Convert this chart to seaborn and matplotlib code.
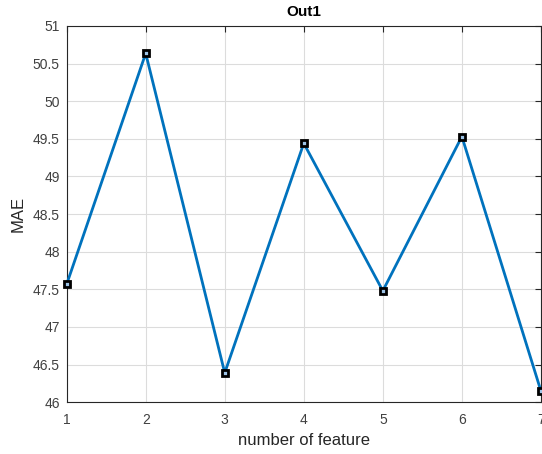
import matplotlib
matplotlib.use("Agg")
import matplotlib.pyplot as plt
import seaborn as sns
import pandas as pd

num_features = [1, 2, 3, 4, 5, 6, 7]
mae = [47.567, 50.635, 46.39, 49.44, 47.48, 49.53, 46.15]
title = "Out1"
xlabel = "number of feature"
ylabel = "MAE"

sns.set_style("white")
plt.rcParams['font.family'] = ['Liberation Sans', 'DejaVu Sans']

df = pd.DataFrame({"n": num_features, "mae": mae})

fig = plt.figure(figsize=(5.42, 4.54), dpi=100)
ax = fig.add_axes([0.123, 0.114, 0.875, 0.829])

sns.lineplot(data=df, x="n", y="mae", ax=ax, color="#0072BD", linewidth=2,
             marker="s", markersize=5, markeredgecolor="black",
             markeredgewidth=2, markerfacecolor="#9dc3e6", clip_on=False, zorder=3)

ax.set_xlim(1, 7)
ax.set_ylim(46, 51)
ax.set_xticks(num_features)
ax.set_yticks([46, 46.5, 47, 47.5, 48, 48.5, 49, 49.5, 50, 50.5, 51])
ax.set_yticklabels(["46", "46.5", "47", "47.5", "48", "48.5", "49", "49.5", "50", "50.5", "51"])
ax.grid(True, color="#dcdcdc", linewidth=0.8)
ax.set_axisbelow(True)
ax.tick_params(direction="in", length=4, width=0.8, colors="#262626", labelsize=10,
               top=True, right=True, labeltop=False, labelright=False)
ax.tick_params(axis="x", pad=8)
ax.tick_params(axis="y", pad=5)
for lbl in ax.get_xticklabels() + ax.get_yticklabels():
    lbl.set_color("#404040")
for s in ax.spines.values():
    s.set_color("#262626")
    s.set_linewidth(0.8)
ax.set_xlabel(xlabel, fontsize=12, color="#262626", labelpad=4)
ax.set_ylabel(ylabel, fontsize=12, color="#262626", labelpad=5)
ax.set_title(title, fontsize=11, fontweight="bold", color="black", pad=7)

fig.savefig("out.png", dpi=100)
